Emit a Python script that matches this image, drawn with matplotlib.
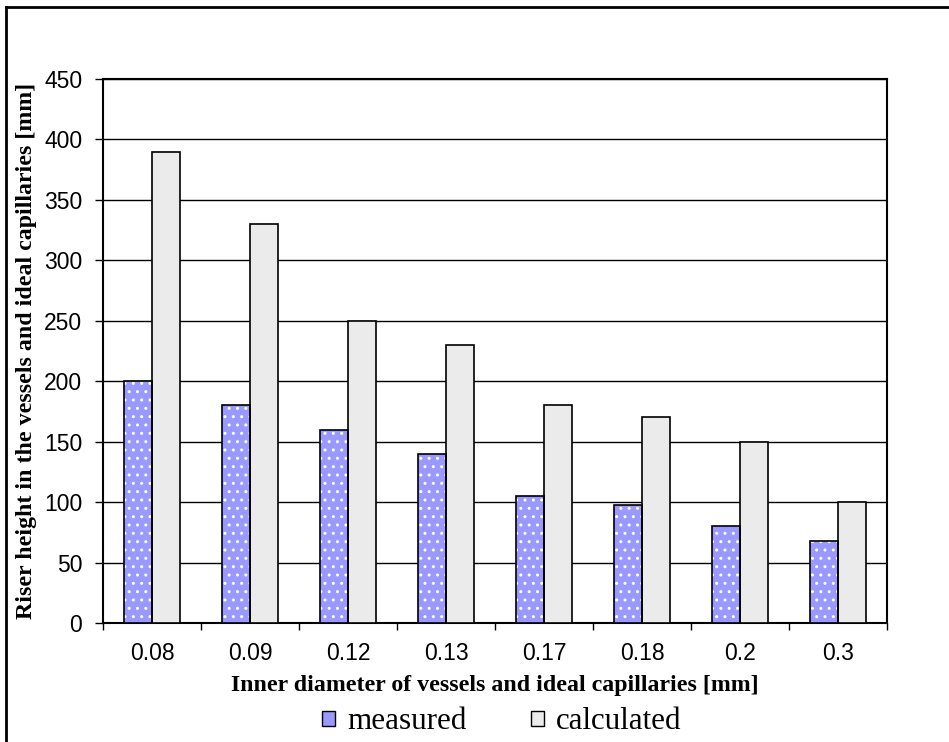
import matplotlib.pyplot as plt
from matplotlib.lines import Line2D
from matplotlib.patches import Patch
import numpy as np

# ── Data ────────────────────────────────────────────────────────────────
diameters = ['0.08', '0.09', '0.12', '0.13', '0.17', '0.18', '0.2', '0.3']
measured = [200, 180, 160, 140, 105, 98, 80, 68]
calculated = [390, 330, 250, 230, 180, 170, 150, 100]

# ── Plot ────────────────────────────────────────────────────────────────
plt.rcParams['hatch.linewidth'] = 1.0

fig = plt.figure(figsize=(9.49, 7.42), dpi=100)
ax = fig.add_axes([0.1085, 0.1604, 0.8262, 0.7331])

x = np.arange(len(diameters))
w = 0.2857
blue = '#9999FF'
grey = '#EBEBEB'

# measured: blue fill with white dots, then a black outline on top
ax.bar(x - w / 2, measured, w, color=blue, edgecolor='white', hatch='..',
       linewidth=0, zorder=3)
ax.bar(x - w / 2, measured, w, fill=False, edgecolor='black', linewidth=1.2, zorder=4)
ax.bar(x + w / 2, calculated, w, color=grey, edgecolor='black', linewidth=1.2, zorder=3)

ax.set_xlim(-0.5, len(diameters) - 0.5)
ax.set_ylim(0, 450)
ax.set_yticks(range(0, 451, 50))
ax.yaxis.grid(True, color='black', linewidth=1.0, zorder=0)
ax.set_axisbelow(True)

# category labels between boundary ticks (Excel style)
ax.set_xticks(np.arange(-0.5, len(diameters), 1.0))
ax.set_xticklabels([])
ax.set_xticks(x, minor=True)
ax.set_xticklabels(diameters, minor=True, fontsize=16.5, family='Liberation Sans')
ax.tick_params(axis='x', which='minor', length=0, pad=14)
ax.tick_params(axis='x', which='major', length=5, width=1.0, direction='out')
ax.tick_params(axis='y', length=6, width=1.0, direction='out', labelsize=16.5, pad=9)
for lab in ax.get_yticklabels():
    lab.set_family('Liberation Sans')

for s in ax.spines.values():
    s.set_linewidth(1.5)
    s.set_color('black')

ax.set_xlabel('Inner diameter of vessels and ideal capillaries [mm]',
              family='Liberation Serif', fontweight='bold', fontsize=17.2, labelpad=7)
ax.set_ylabel('Riser height in the vessels and ideal capillaries [mm]',
              family='Liberation Serif', fontweight='bold', fontsize=17.2, labelpad=5)

handles = [Patch(facecolor=blue, edgecolor='black', linewidth=1.0),
           Patch(facecolor=grey, edgecolor='black', linewidth=1.0)]
leg = fig.legend(handles, ['measured', 'calculated'], loc='center',
                 bbox_to_anchor=(0.529, 0.027), ncol=2, frameon=False,
                 prop={'family': 'Liberation Serif', 'size': 22.3},
                 handlelength=0.4, handleheight=0.4, handletextpad=0.4,
                 columnspacing=2.1, borderpad=0)

# outer frame of the chart object
fx = 6 / 949
fy = 1 - 7 / 742
fig.add_artist(Line2D([fx, 1], [fy, fy], transform=fig.transFigure,
                      color='black', linewidth=2.0))
fig.add_artist(Line2D([fx, fx], [0, fy], transform=fig.transFigure,
                      color='black', linewidth=2.0))

fig.savefig('out.png', dpi=100, facecolor='white')
